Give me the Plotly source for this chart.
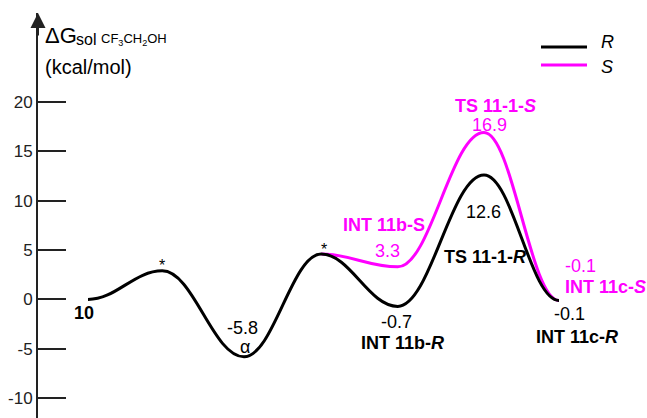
import plotly.graph_objects as go

# Reaction-coordinate positions of the stationary points
stage_x = [0.0, 0.99, 2.08, 3.11, 4.13, 5.28, 6.28]

# Relative free energies (kcal/mol), R pathway
r_energy = [0.0, 2.9, -5.8, 4.6, -0.7, 12.6, -0.1]
# S pathway branches off at the fourth stationary point
s_x = [3.11, 4.13, 5.28, 6.28]
s_energy = [4.6, 3.3, 16.9, -0.1]

y_ticks = [-10, -5, 0, 5, 10, 15, 20]

BLACK = "#000000"
MAGENTA = "#FF00FF"
AXIS = "#222222"
FONT = "Liberation Sans, Arial, Helvetica, sans-serif"

W, H = 647, 418
ML, MR, MT, MB = 38, 0, 13, 0
X_RANGE = [-0.6667, 7.4533]
Y_RANGE = [-12.0, 29.0]


def px(x):
    return (x - ML) / (W - ML - MR)


def py(y):
    return (H - MB - y) / (H - MT - MB)


def profile_path(xs, ys, k=0.38):
    """Smooth energy profile: cubic segments with flat tangents at each point."""
    d = f"M {xs[0]},{ys[0]}"
    for i in range(1, len(xs)):
        x0, y0, x1, y1 = xs[i - 1], ys[i - 1], xs[i], ys[i]
        dx = x1 - x0
        d += f" C {x0 + k * dx},{y0} {x1 - k * dx},{y1} {x1},{y1}"
    return d


fig = go.Figure()
# stationary points (hover targets only)
fig.add_trace(go.Scatter(x=stage_x, y=r_energy, mode="markers",
                         marker=dict(size=6, color=BLACK, opacity=0),
                         name="R", showlegend=False, hoverinfo="x+y"))
fig.add_trace(go.Scatter(x=s_x, y=s_energy, mode="markers",
                         marker=dict(size=6, color=MAGENTA, opacity=0),
                         name="S", showlegend=False, hoverinfo="x+y"))

shapes = [
    dict(type="path", xref="x", yref="y", path=profile_path(s_x, s_energy),
         line=dict(color=MAGENTA, width=3)),
    dict(type="path", xref="x", yref="y", path=profile_path(stage_x, r_energy),
         line=dict(color=BLACK, width=3)),
    # legend samples
    dict(type="line", xref="paper", yref="paper", x0=px(541), x1=px(587),
         y0=py(47), y1=py(47), line=dict(color=BLACK, width=3)),
    dict(type="line", xref="paper", yref="paper", x0=px(541), x1=px(587),
         y0=py(65), y1=py(65), line=dict(color=MAGENTA, width=3)),
]

ann = []


def label(x, y, text, color=BLACK, size=18, bold=False, dx=0, dy=0, anchor="center"):
    t = f"<b>{text}</b>" if bold else text
    ann.append(dict(x=x, y=y, xref="x", yref="y", text=t, showarrow=False,
                    xanchor=anchor, yanchor="middle", xshift=dx, yshift=dy,
                    font=dict(family=FONT, size=size, color=color)))


fmt = lambda v: f"{v:.1f}"

# R pathway labels
label(stage_x[0], r_energy[0], "10", bold=True, dx=-4, dy=-14)
label(stage_x[1], r_energy[1], "*", size=16, dx=0, dy=5)
label(stage_x[2], r_energy[2], fmt(r_energy[2]), dx=-2, dy=29)
label(stage_x[2], r_energy[2], "α", dx=1, dy=10)
label(stage_x[3], r_energy[3], "*", size=16, dx=3, dy=5)
label(stage_x[4], r_energy[4], fmt(r_energy[4]), dx=-1, dy=-16)
label(stage_x[4], r_energy[4], "INT 11b-<i>R</i>", bold=True, dx=5, dy=-37)
label(stage_x[5], r_energy[5], fmt(r_energy[5]), dx=-1, dy=-37)
label(stage_x[5], r_energy[5], "TS 11-1-<i>R</i>", bold=True, dx=1, dy=-82)
label(stage_x[6], r_energy[6], fmt(r_energy[6]), dx=10, dy=-14)
label(stage_x[6], r_energy[6], "INT 11c-<i>R</i>", bold=True, dx=18, dy=-37)

# S pathway labels
label(s_x[1], s_energy[1], "INT 11b-S", color=MAGENTA, bold=True, dx=-14, dy=42)
label(s_x[1], s_energy[1], fmt(s_energy[1]), color=MAGENTA, dx=-10, dy=16)
label(s_x[2], s_energy[2], "TS 11-1-<i>S</i>", color=MAGENTA, bold=True, dx=11, dy=27)
label(s_x[2], s_energy[2], fmt(s_energy[2]), color=MAGENTA, dx=5, dy=8)
label(s_x[3], s_energy[3], fmt(s_energy[3]), color=MAGENTA, dx=21, dy=34)
label(s_x[3], s_energy[3], "INT 11c-<i>S</i>", color=MAGENTA, bold=True, dx=46, dy=13)

# arrow at the top of the energy axis
ann.append(dict(x=0, y=1, xref="paper", yref="paper", ax=0, ay=24,
                axref="pixel", ayref="pixel", showarrow=True, text="",
                arrowhead=2, arrowsize=1.5, arrowwidth=2, arrowcolor=AXIS))


def title_text(x, y, text, size):
    ann.append(dict(x=px(x), y=py(y), xref="paper", yref="paper", showarrow=False,
                    xanchor="left", yanchor="middle", text=text,
                    font=dict(family=FONT, size=size, color=BLACK)))


# axis title
title_text(43, 35, "ΔG", 22)
title_text(74, 39, "sol", 16)
title_text(99, 40, "CF<sub>3</sub>CH<sub>2</sub>OH", 13)
title_text(43, 67, "(kcal/mol)", 20)

# legend text
title_text(599, 42, "<i>R</i>", 18)
title_text(599, 67, "<i>S</i>", 18)

fig.update_layout(
    width=W, height=H,
    margin=dict(l=ML, r=MR, t=MT, b=MB, pad=0),
    paper_bgcolor="white", plot_bgcolor="white",
    showlegend=False,
    shapes=shapes, annotations=ann,
    xaxis=dict(range=X_RANGE, visible=False, fixedrange=True),
    yaxis=dict(range=Y_RANGE, tickvals=y_ticks, ticktext=[str(v) for v in y_ticks],
               ticks="inside", ticklen=28, tickwidth=2, tickcolor=AXIS,
               showline=True, linewidth=2, linecolor=AXIS,
               showgrid=False, zeroline=False,
               tickfont=dict(family=FONT, size=17, color=AXIS), fixedrange=True),
)

fig.write_html("out.html")
